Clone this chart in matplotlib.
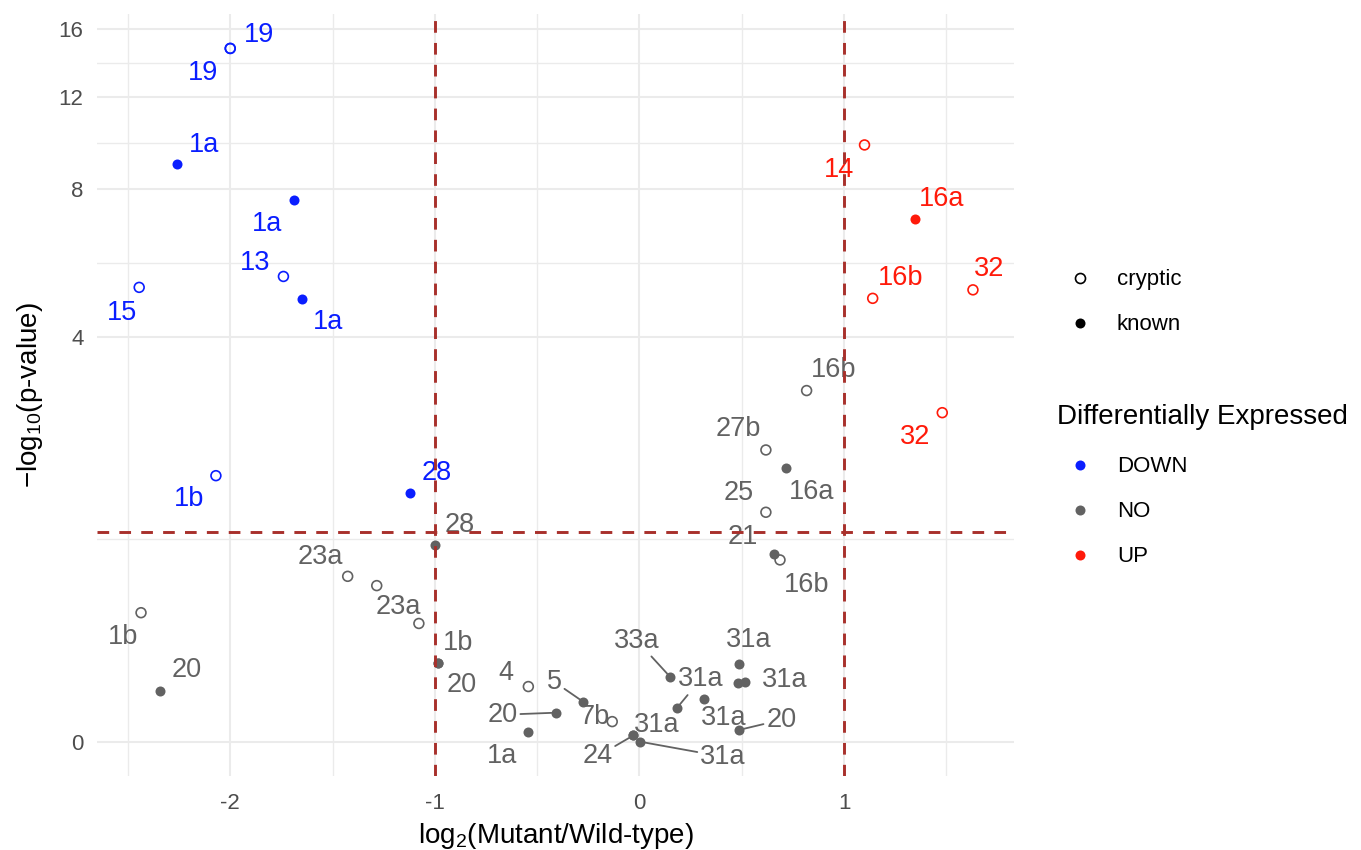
import numpy as np
import matplotlib.pyplot as plt
from matplotlib.lines import Line2D

plt.rcParams['font.family'] = ['Liberation Sans', 'DejaVu Sans']
plt.rcParams['mathtext.fontset'] = 'custom'
plt.rcParams['mathtext.rm'] = 'Liberation Sans'
plt.rcParams['mathtext.it'] = 'Liberation Sans:italic'
plt.rcParams['mathtext.default'] = 'regular'
plt.rcParams['axes.unicode_minus'] = False

# ---- data ----
log2fc = [-2.00, -2.00, -2.26, -1.69, -1.74, -2.445, -1.65, -2.07, -1.12,
          1.10, 1.345, 1.14, 1.63, 1.48,
          0.817, 0.618, 0.716, 0.618, 0.657, 0.687, -1.00, -1.426, -1.284, -1.078,
          -2.436, -2.344, -0.983, -0.983, -0.543, -0.275, -0.410, -0.133, -0.546,
          0.149, 0.182, 0.317, 0.488, 0.480, 0.516, 0.488, -0.030, -0.030, 0.002]
neglogp = [14.75, 14.75, 8.95, 7.61, 5.36, 5.09, 4.82, 1.88, 1.69,
           9.73, 6.99, 4.83, 5.03, 2.70,
           3.04, 2.19, 1.97, 1.49, 1.11, 1.06, 1.19, 0.93, 0.86, 0.60,
           0.67, 0.225, 0.366, 0.366, 0.245, 0.172, 0.122, 0.083, 0.038,
           0.295, 0.142, 0.185, 0.360, 0.261, 0.269, 0.048, 0.025, 0.025, 0.0]
origin = ['cryptic', 'cryptic', 'known', 'known', 'cryptic', 'cryptic', 'known', 'cryptic', 'known',
          'cryptic', 'known', 'cryptic', 'cryptic', 'cryptic',
          'cryptic', 'cryptic', 'known', 'cryptic', 'known', 'cryptic', 'known', 'cryptic', 'cryptic', 'cryptic',
          'cryptic', 'known', 'known', 'known', 'cryptic', 'known', 'known', 'cryptic', 'known',
          'known', 'known', 'known', 'known', 'known', 'known', 'known', 'known', 'known', 'known']
regulation = ['DOWN'] * 9 + ['UP'] * 5 + ['NO'] * 29
labels = ['19', '19', '1a', '1a', '13', '15', '1a', '1b', '28',
          '14', '16a', '16b', '32', '32',
          '16b', '27b', '16a', '25', '21', '16b', '28', '23a', '23a', '',
          '1b', '20', '1b', '20', '4', '5', '20', '7b', '1a',
          '33a', '31a', '31a', '31a', '', '31a', '20', '24', '31a', '31a']

# where the repelled labels sit relative to their point (pixels) and which get a leader line
label_dx = [29, -27, 27, -27, -28, -17, 26, -27, 26,
            -26, 27, 28, 16, -27,
            27, -28, 26, -27, -31, 27, 25, -27, 22, 0,
            -18, 27, 20, 23, -22, -29, -53, -17, -26,
            -33, 24, 19, 9, 0, 40, 42, -36, 23, 83]
label_dy = [13, -25, 19, -24, 13, -26, -23, -23, 20,
            -25, 20, 20, 21, -24,
            21, 21, -24, 19, 17, -25, 20, 19, -21, 0,
            -24, 21, 20, -22, 14, 20, -2, 5, -24,
            36, 29, -19, 24, 0, 2, 10, -21, 10, -15]
leader = [False] * 29 + [True, True, False, False,
                         True, True, False, False, False, False, True, True, False, True]

colors = {'DOWN': '#0A1EFF', 'NO': '#626262', 'UP': '#FF1A0A'}
cutoff_fc = 1
cutoff_p = 0.05


def fwd(y):
    return np.log10(np.asarray(y, dtype=float) + 1)


def inv(t):
    return 10 ** np.asarray(t, dtype=float) - 1


fig = plt.figure(figsize=(13.61, 8.5), dpi=100)
ax = fig.add_axes([0.0716, 0.0866, 0.6738, 0.8974])
ax.set_yscale('function', functions=(fwd, inv))

x = np.array(log2fc)
y = np.array(neglogp)
org = np.array(origin)
reg = np.array(regulation)

for r, c in colors.items():
    m = (reg == r) & (org == 'cryptic')
    ax.scatter(x[m], y[m], s=50, facecolors='none', edgecolors=c, linewidths=1.2, zorder=3)
    m = (reg == r) & (org == 'known')
    ax.scatter(x[m], y[m], s=52, color=c, linewidths=0, zorder=3)

for i, lab in enumerate(labels):
    if not lab:
        continue
    c = colors[regulation[i]]
    arrow = dict(arrowstyle='-', color=c, lw=1.3, shrinkA=0, shrinkB=3) if leader[i] else None
    ax.annotate(lab, (log2fc[i], neglogp[i]), xytext=(label_dx[i], label_dy[i]),
                textcoords='offset pixels', ha='center', va='center',
                fontsize=19.5, color=c, arrowprops=arrow, zorder=4)

line_kw = dict(color='#A8302B', lw=2.1, ls=(0, (4, 3.5)), zorder=5)
ax.axhline(-np.log10(cutoff_p), **line_kw)
ax.axvline(-cutoff_fc, **line_kw)
ax.axvline(cutoff_fc, **line_kw)

ax.set_xlim(-2.649, 1.833)
ax.set_ylim(-0.129, 17.09)

yt = [0, 4, 8, 12, 16]
ax.set_xticks([-2, -1, 0, 1])
ax.set_xticks([-2.5, -1.5, -0.5, 0.5, 1.5], minor=True)
ax.set_yticks(yt)
ax.set_yticks(inv((fwd(yt[:-1]) + fwd(yt[1:])) / 2), minor=True)
ax.set_xticklabels(['-2', '-1', '0', '1'])
ax.grid(which='major', color='#EBEBEB', lw=1.5)
ax.grid(which='minor', color='#EBEBEB', lw=1.0)
ax.set_axisbelow(True)
ax.tick_params(which='both', length=0, labelsize=16, labelcolor='#4D4D4D')
ax.tick_params(axis='x', pad=12)
ax.tick_params(axis='y', pad=10)
for s in ax.spines.values():
    s.set_visible(False)

ax.set_xlabel('log$_2$(Mutant/Wild-type)', fontsize=20)
ax.set_ylabel('\u2212log$_{10}$(p-value)', fontsize=20)
ax.xaxis.set_label_coords(0.5, -0.058)
ax.yaxis.set_label_coords(-0.057, 0.5)

# ---- legends (shape, then colour) ----
W, H = 1361, 850


def key(px, py, face, edge):
    fig.add_artist(Line2D([px / W], [1 - py / H], transform=fig.transFigure, marker='o',
                          ls='none', markersize=7.2, markerfacecolor=face,
                          markeredgecolor=edge, markeredgewidth=1.2 if face == 'none' else 0))


key(1080, 278, 'none', 'black')
fig.text(1117 / W, 1 - 279 / H, 'cryptic', fontsize=16, va='center')
key(1080, 323, 'black', 'black')
fig.text(1117 / W, 1 - 325 / H, 'known', fontsize=16, va='center')

fig.text(1057 / W, 1 - 417 / H, 'Differentially Expressed', fontsize=20, va='center')
for (lab, c), py in zip(colors.items(), [465, 510, 555]):
    key(1080, py, c, c)
    fig.text(1117 / W, 1 - (py + 1.5) / H, lab, fontsize=16, va='center')

fig.savefig('out.png', dpi=100)
